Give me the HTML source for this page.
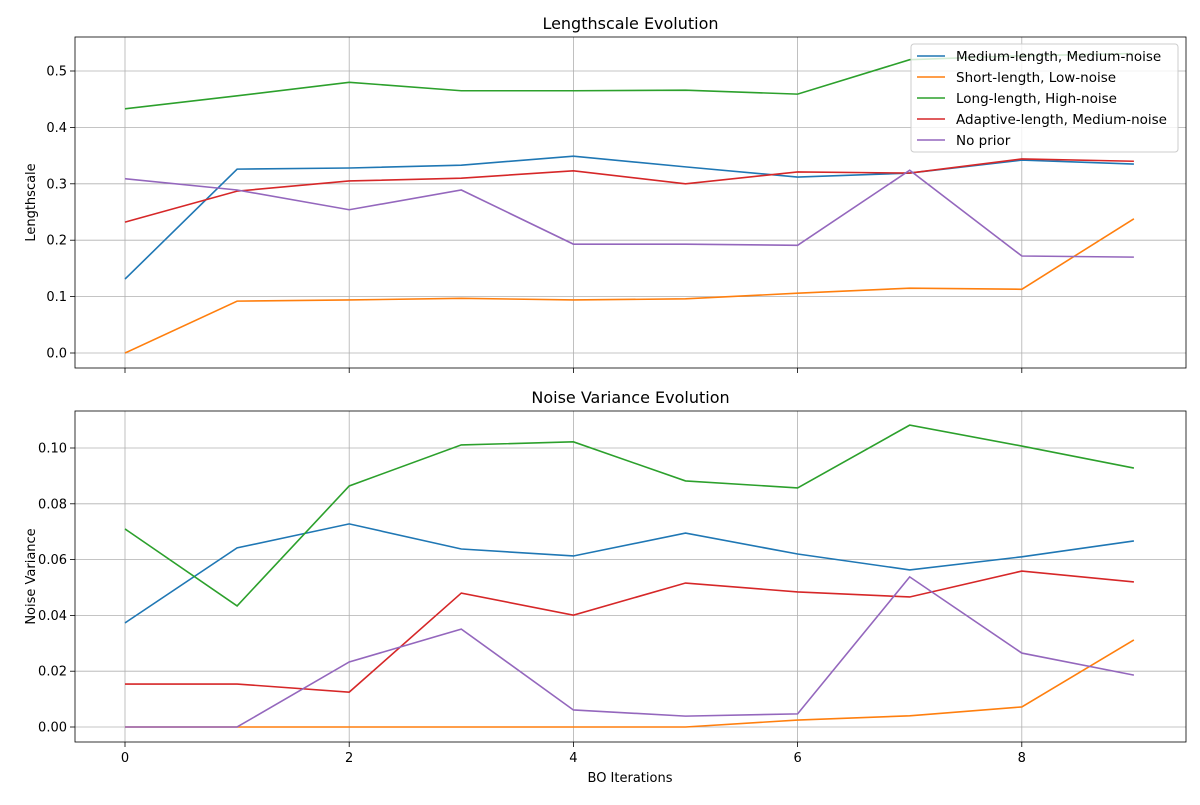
<!DOCTYPE html>
<html><head><meta charset="utf-8"><style>
body{margin:0;background:#fff;font-family:"Liberation Sans","DejaVu Sans",sans-serif;}
svg text{font-family:"DejaVu Sans","Liberation Sans",sans-serif;fill:#000;}
</style></head><body>
<svg id="chart" width="1200" height="800" xmlns="http://www.w3.org/2000/svg"></svg>
<script>
const iterations=[0,1,2,3,4,5,6,7,8,9];
const seriesNames=["Medium-length, Medium-noise","Short-length, Low-noise","Long-length, High-noise","Adaptive-length, Medium-noise","No prior"];
const colors=["#1f77b4","#ff7f0e","#2ca02c","#d62728","#9467bd"];
const lsMedium=[0.131,0.326,0.328,0.333,0.349,0.330,0.312,0.319,0.342,0.335];
const lsShort=[0.0,0.092,0.094,0.097,0.094,0.096,0.106,0.115,0.113,0.238];
const lsLong=[0.433,0.456,0.480,0.465,0.465,0.466,0.459,0.520,0.527,0.531];
const lsAdaptive=[0.232,0.287,0.305,0.310,0.323,0.300,0.321,0.319,0.344,0.340];
const lsNone=[0.309,0.289,0.254,0.289,0.193,0.193,0.191,0.324,0.172,0.170];
const nvMedium=[0.0373,0.0642,0.0728,0.0638,0.0613,0.0695,0.062,0.0563,0.061,0.0667];
const nvShort=[0,0,0,0,0,0,0.0025,0.004,0.0072,0.0312];
const nvLong=[0.071,0.0434,0.0864,0.1011,0.1022,0.0882,0.0857,0.1082,0.1007,0.0928];
const nvAdaptive=[0.0154,0.0154,0.0125,0.048,0.0401,0.0516,0.0484,0.0466,0.0559,0.052];
const nvNone=[0,0,0.0233,0.0351,0.0061,0.0039,0.0047,0.0538,0.0265,0.0186];
const xTicks=[0,2,4,6,8];
const lsTicks=[0.0,0.1,0.2,0.3,0.4,0.5];
const nvTicks=[0.00,0.02,0.04,0.06,0.08,0.10];

const svg=document.getElementById('chart');
const NS="http://www.w3.org/2000/svg";
function mk(tag,attrs,parent){const e=document.createElementNS(NS,tag);for(const k in attrs)e.setAttribute(k,attrs[k]);(parent||svg).appendChild(e);return e;}
const xS=v=>125+v*112.1;
const L=75,R=1186;

function panel(name,top,bottom,yS,ticks,dec,series,title,ylabel,showXLabels){
  const g=mk('g',{});
  
  
  xTicks.forEach(t=>{
    const x=xS(t);
    const gl=mk('line',{x1:x,x2:x,y1:top,y2:bottom,stroke:'#b0b0b0','stroke-width':0.8},g);
    
    mk('line',{x1:x,x2:x,y1:bottom,y2:bottom+5,stroke:'#000','stroke-width':0.8},g);
    if(showXLabels){const tx=mk('text',{x:x,y:bottom+20,'text-anchor':'middle','font-size':13},g);tx.textContent=t;
      }
  });
  ticks.forEach(t=>{
    const y=yS(t);
    const gl=mk('line',{x1:L,x2:R,y1:y,y2:y,stroke:'#b0b0b0','stroke-width':0.8},g);
    
    mk('line',{x1:L-5,x2:L,y1:y,y2:y,stroke:'#000','stroke-width':0.8},g);
    const tx=mk('text',{x:L-8,y:y+4.5,'text-anchor':'end','font-size':13},g);tx.textContent=t.toFixed(dec);
    
  });
  series.forEach((s,i)=>{
    const p=mk('polyline',{points:s.map((v,j)=>xS(iterations[j])+','+yS(v)).join(' '),fill:'none',stroke:colors[i],'stroke-width':1.6},g);
    
  });
  mk('rect',{x:L,y:top,width:R-L,height:bottom-top,fill:'none',stroke:'#000','stroke-width':0.8},g);
  const tt=mk('text',{x:(L+R)/2,y:top-8,'text-anchor':'middle','font-size':16},g);tt.textContent=title;
  
  const yl=mk('text',{x:0,y:0,'text-anchor':'middle','font-size':13,transform:`translate(35,${(top+bottom)/2}) rotate(-90)`},g);yl.textContent=ylabel;
  
}
panel('lengthscale-panel',37,368,v=>353-v*564,lsTicks,1,[lsMedium,lsShort,lsLong,lsAdaptive,lsNone],'Lengthscale Evolution','Lengthscale',false);
panel('noise-panel',411,742,v=>727-v*2790,nvTicks,2,[nvMedium,nvShort,nvLong,nvAdaptive,nvNone],'Noise Variance Evolution','Noise Variance',true);
const xl=mk('text',{x:630,y:782,'text-anchor':'middle','font-size':13});xl.textContent='BO Iterations';



const lg=mk('g',{});


mk('rect',{x:911,y:44,width:267,height:108,rx:3,fill:'#fff','fill-opacity':0.8,stroke:'#ccc'},lg);
seriesNames.forEach((n,i)=>{
  const y=56+i*21;
  const e=mk('g',{},lg);
  
  
  mk('line',{x1:917,x2:945,y1:y,y2:y,stroke:colors[i],'stroke-width':1.6},e);
  const t=mk('text',{x:956,y:y+5,'font-size':13.5},e);t.textContent=n;
});
</script>
</body></html>
